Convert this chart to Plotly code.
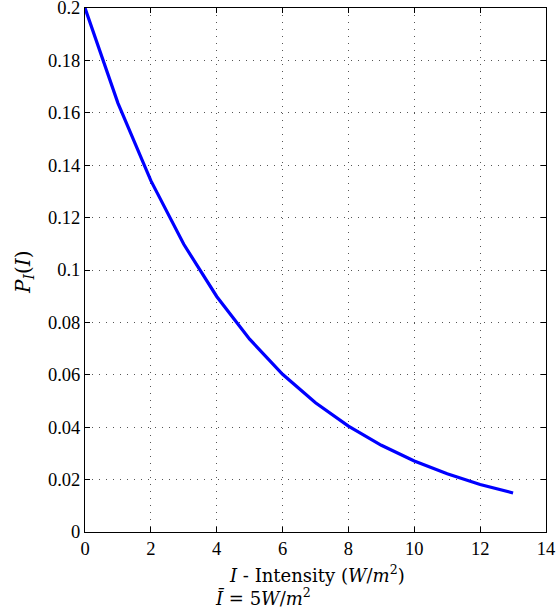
import plotly.graph_objects as go

intensity = [0, 1, 2, 3, 4, 5, 6, 7, 8, 9, 10, 11, 12, 13]
prob = [0.2, 0.1637, 0.1341, 0.1098, 0.0899, 0.0736, 0.0602, 0.0493,
        0.0404, 0.0331, 0.0271, 0.0222, 0.0181, 0.0149]
x_ticks = [0, 2, 4, 6, 8, 10, 12, 14]
y_ticks = [0, 0.02, 0.04, 0.06, 0.08, 0.1, 0.12, 0.14, 0.16, 0.18, 0.2]
y_tick_text = ["0", "0.02", "0.04", "0.06", "0.08", "0.1", "0.12", "0.14", "0.16", "0.18", "0.2"]

tick_font = "Liberation Serif, Times New Roman, serif"
title_font = "DejaVu Serif, Liberation Serif, serif"

L, R, T, B = 85, 12, 8, 83
W, H = 558, 615
pw, ph = W - L - R, H - T - B

fig = go.Figure()
fig.add_trace(go.Scatter(x=intensity, y=prob, mode="lines",
                         line=dict(color="#0000ff", width=3.2), showlegend=False,
                         hoverinfo="skip"))

axis_common = dict(
    showline=True, linecolor="black", linewidth=1, mirror="ticks",
    ticks="inside", ticklen=5, tickcolor="black", tickwidth=1,
    showgrid=True, gridcolor="#555", gridwidth=1, griddash="1px,6px",
    zeroline=False, automargin=False, ticklabeloverflow="allow",
    tickfont=dict(family=tick_font, size=18.5, color="black"),
)

def px_x(x):
    return (x - L) / pw

def px_y(y):
    return 1 - (y - T) / ph

fig.update_layout(
    width=W, height=H,
    margin=dict(l=L, r=R, t=T, b=B, autoexpand=False),
    paper_bgcolor="white", plot_bgcolor="white",
    font=dict(family=tick_font, color="black"),
    xaxis=dict(range=[0, 14], tickvals=x_ticks, ticklabelstandoff=0, **axis_common),
    yaxis=dict(range=[0, 0.2], tickvals=y_ticks, ticktext=y_tick_text,
               ticklabelstandoff=0, **axis_common),
    annotations=[
        dict(text="<i>P</i><sub><i>I</i></sub>(<i>I</i>)",
             xref="paper", yref="paper", x=px_x(24), y=px_y(272),
             xanchor="center", yanchor="middle", textangle=-90,
             showarrow=False, font=dict(family=title_font, size=20)),
        dict(text="<i>I</i> - Intensity (<i>W</i>/<i>m</i><sup>2</sup>)",
             xref="paper", yref="paper", x=px_x(317), y=px_y(574),
             xanchor="center", yanchor="middle",
             showarrow=False, font=dict(family=title_font, size=18)),
        dict(text="<i>Ī</i> = 5<i>W</i>/<i>m</i><sup>2</sup>",
             xref="paper", yref="paper", x=px_x(213), y=px_y(597),
             xanchor="left", yanchor="middle",
             showarrow=False, font=dict(family=title_font, size=18)),
    ],
)

fig.write_html("out.html", config={"displayModeBar": False},
               post_script="document.body.style.margin='0';document.body.style.padding='0';")
